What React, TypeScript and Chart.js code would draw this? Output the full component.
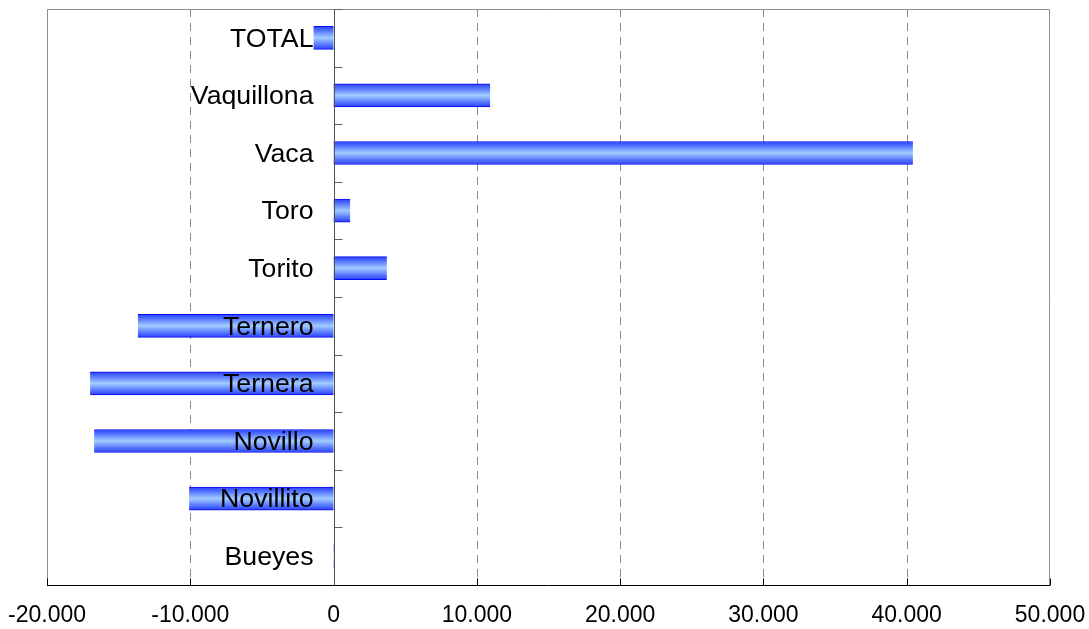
import React, { useEffect, useRef } from 'react';
import { Chart, registerables } from 'chart.js';

Chart.register(...registerables);

const categories = ['TOTAL', 'Vaquillona', 'Vaca', 'Toro', 'Torito', 'Ternero', 'Ternera', 'Novillo', 'Novillito', 'Bueyes'];
const values = [-1400, 10930, 40430, 1160, 3720, -13660, -16990, -16710, -10080, 50];
const xTickValues = [-20000, -10000, 0, 10000, 20000, 30000, 40000, 50000];
const xTickLabels = ['-20.000', '-10.000', '0', '10.000', '20.000', '30.000', '40.000', '50.000'];

const X_MIN = -20000;
const X_MAX = 50000;
const FONT = '"Liberation Sans", Arial, sans-serif';

const framePlugin = {
  id: 'framePlugin',
  beforeDatasetsDraw(chart: any) {
    const { ctx, chartArea: a, scales } = chart;
    const x = scales.x;
    ctx.save();
    ctx.strokeStyle = '#8c8c8c';
    ctx.lineWidth = 1;
    ctx.setLineDash([8, 6]);
    xTickValues.forEach((v) => {
      if (v === 0 || v === X_MIN || v === X_MAX) return;
      const px = Math.round(x.getPixelForValue(v)) + 0.5;
      ctx.beginPath();
      ctx.moveTo(px, a.top);
      ctx.lineTo(px, a.bottom);
      ctx.stroke();
    });
    ctx.restore();
    // bar gradients, computed from each bar element's geometry
    const meta = chart.getDatasetMeta(0);
    meta.data.forEach((el: any) => {
      const h = el.height || 23;
      const g = ctx.createLinearGradient(0, el.y - h / 2, 0, el.y + h / 2);
      g.addColorStop(0, '#2a40ff');
      g.addColorStop(0.15, '#4a68ff');
      g.addColorStop(0.5, '#a2ccff');
      g.addColorStop(0.85, '#4a68ff');
      g.addColorStop(1, '#2a40ff');
      el.options = Object.assign({}, el.options, { backgroundColor: g });
    });
  },
  afterDatasetsDraw(chart: any) {
    const { ctx, chartArea: a, scales } = chart;
    const x = scales.x;
    const y = scales.y;
    ctx.save();
    ctx.setLineDash([]);
    const L = Math.round(a.left) + 0.5;
    const R = Math.round(a.right) - 0.5;
    const T = Math.round(a.top) + 0.5;
    const B = Math.round(a.bottom) + 0.5;
    ctx.strokeStyle = '#8c8c8c';
    ctx.lineWidth = 1;
    ctx.beginPath();
    ctx.moveTo(L, B);
    ctx.lineTo(L, T);
    ctx.lineTo(R, T);
    ctx.lineTo(R, B);
    ctx.stroke();
    ctx.strokeStyle = '#000000';
    ctx.beginPath();
    ctx.moveTo(L - 0.5, B);
    ctx.lineTo(R + 0.5, B);
    ctx.stroke();
    xTickValues.forEach((v) => {
      const px = Math.round(x.getPixelForValue(v)) + 0.5;
      ctx.beginPath();
      ctx.moveTo(px, B);
      ctx.lineTo(px, B - 7);
      ctx.stroke();
    });
    const x0 = Math.round(x.getPixelForValue(0)) + 0.5;
    ctx.strokeStyle = '#505050';
    ctx.beginPath();
    ctx.moveTo(x0, T);
    ctx.lineTo(x0, B);
    ctx.stroke();
    const n = categories.length;
    const step = (a.bottom - a.top) / n;
    ctx.strokeStyle = '#606060';
    for (let i = 0; i < n; i++) {
      const py = Math.round(a.top + i * step) + 0.5;
      ctx.beginPath();
      ctx.moveTo(x0, py);
      ctx.lineTo(x0 + 8, py);
      ctx.stroke();
    }
    ctx.fillStyle = '#000000';
    ctx.font = '26.7px ' + FONT;
    ctx.textAlign = 'right';
    ctx.textBaseline = 'middle';
    categories.forEach((c, i) => {
      const py = y.getPixelForValue(i);
      ctx.fillText(c, x0 - 21, py + 1.5);
    });
    ctx.restore();
  },
};

export default function App() {
  const canvasRef = useRef<HTMLCanvasElement | null>(null);

  useEffect(() => {
    const canvas = canvasRef.current;
    if (!canvas) return;
    const chart = new Chart(canvas, {
      type: 'bar',
      data: {
        labels: categories,
        datasets: [
          {
            data: values,
            barThickness: 23,
            borderColor: '#0a0af0',
            borderWidth: { top: 1, bottom: 1, left: 0, right: 0 } as any,
            borderSkipped: false,
            backgroundColor: '#4a6aff',
          },
        ],
      },
      options: {
        indexAxis: 'y',
        responsive: false,
        animation: false,
        events: [],
        layout: { padding: { left: 47, right: 39, top: 9, bottom: 0 } },
        plugins: {
          legend: { display: false },
          tooltip: { enabled: false },
        },
        scales: {
          x: {
            type: 'linear',
            min: X_MIN,
            max: X_MAX,
            afterBuildTicks: (scale: any) => {
              scale.ticks = xTickValues.map((v) => ({ value: v }));
            },
            afterFit: (scale: any) => {
              scale.height = 44;
              scale.paddingLeft = 0;
              scale.paddingRight = 0;
            },
            grid: { display: false, drawTicks: false },
            border: { display: false },
            ticks: {
              padding: 17,
              color: '#000000',
              font: { family: FONT, size: 23 },
              maxRotation: 0,
              autoSkip: false,
              callback: (v: any) => {
                const i = xTickValues.indexOf(Number(v));
                return i >= 0 ? xTickLabels[i] : '';
              },
            },
          },
          y: {
            type: 'category',
            display: false,
          },
        },
      },
      plugins: [framePlugin],
    });
    return () => chart.destroy();
  }, []);

  return (
    <div style={{ position: 'absolute', left: 0, top: 0, width: 1089, height: 629 }}>
      <canvas ref={canvasRef} width={1089} height={629} style={{ display: 'block' }} />
    </div>
  );
}
